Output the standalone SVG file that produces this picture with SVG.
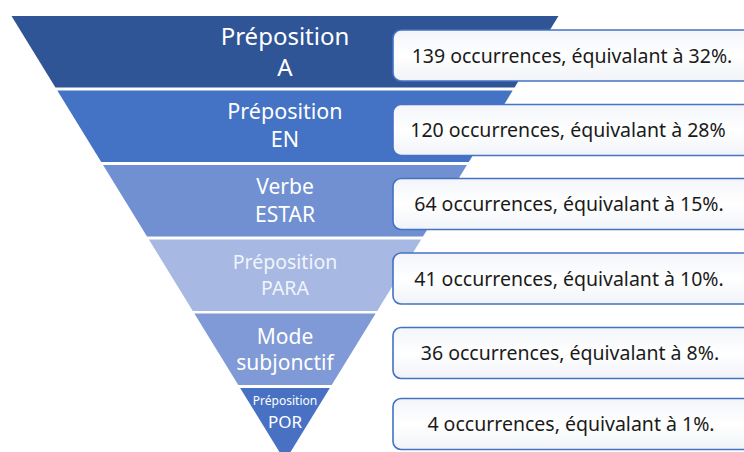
<svg xmlns="http://www.w3.org/2000/svg" width="744" height="452" viewBox="0 0 744 452">
<defs>
<linearGradient id="boxg" x1="0" y1="0" x2="0" y2="1">
<stop offset="0" stop-color="#F3F5F9"/>
<stop offset="0.5" stop-color="#FFFFFF"/>
<stop offset="1" stop-color="#F0F3F8"/>
</linearGradient>
<style>
.lbl{font-family:"Noto Sans","Open Sans","DejaVu Sans",sans-serif;fill:#FFFFFF;text-anchor:middle}
.box{fill:url(#boxg);stroke:#4472C4;stroke-width:1.6}
.bt{font-family:"Noto Sans","Open Sans","DejaVu Sans",sans-serif;font-size:19.5px;fill:#1A1A1A;text-anchor:middle}
</style>
</defs>
<rect width="744" height="452" fill="#FFFFFF"/>
<g id="band1">
<polygon points="11.5,16 558.5,16 514.56,87.5 55.44,87.5" fill="#2F5597"/>
<text class="lbl" x="285" y="45" font-size="24">Préposition</text>
<text class="lbl" x="285" y="76" font-size="24">A</text>
</g>
<g id="band2">
<polygon points="57.29,90.5 512.71,90.5 468.77,162 101.23,162" fill="#4472C4"/>
<text class="lbl" x="285" y="119" font-size="21.5">Préposition</text>
<text class="lbl" x="285" y="147" font-size="21.5">EN</text>
</g>
<g id="band3">
<polygon points="103.08,165 466.92,165 422.98,236.5 147.02,236.5" fill="#7090D1"/>
<text class="lbl" x="285" y="194" font-size="21">Verbe</text>
<text class="lbl" x="285" y="222" font-size="21">ESTAR</text>
</g>
<g id="band4">
<polygon points="148.86,239.5 421.14,239.5 377.19,311 192.81,311" fill="#A7B8E3"/>
<text class="lbl" x="285" y="269" font-size="19.5" fill="#F1F4FB" style="fill:#F1F4FB">Préposition</text>
<text class="lbl" x="285" y="295" font-size="19.5" style="fill:#F1F4FB">PARA</text>
</g>
<g id="band5">
<polygon points="194.35,313.5 375.65,313.5 331.71,385 238.29,385" fill="#7F9AD6"/>
<text class="lbl" x="285" y="344" font-size="21">Mode</text>
<text class="lbl" x="285" y="370" font-size="21">subjonctif</text>
</g>
<g id="band6">
<polygon points="240.13,388 329.87,388 285,461" fill="#4871C3"/>
<text class="lbl" x="285" y="405" font-size="12">Préposition</text>
<text class="lbl" x="285" y="428" font-size="17">POR</text>
</g>
<g id="box1">
<rect class="box" x="393" y="30" width="360" height="51" rx="8"/>
<text class="bt" x="572" y="62.5">139 occurrences, équivalant à 32%.</text>
</g>
<g id="box2">
<rect class="box" x="393" y="104.5" width="360" height="51" rx="8"/>
<text class="bt" x="568" y="137">120 occurrences, équivalant à 28%</text>
</g>
<g id="box3">
<rect class="box" x="393" y="178.5" width="360" height="51" rx="8"/>
<text class="bt" x="569" y="211">64 occurrences, équivalant à 15%.</text>
</g>
<g id="box4">
<rect class="box" x="393" y="253" width="360" height="51" rx="8"/>
<text class="bt" x="569" y="285.5">41 occurrences, équivalant à 10%.</text>
</g>
<g id="box5">
<rect class="box" x="393" y="327.5" width="360" height="51" rx="8"/>
<text class="bt" x="570" y="360">36 occurrences, équivalant à 8%.</text>
</g>
<g id="box6">
<rect class="box" x="393" y="398.5" width="360" height="51" rx="8"/>
<text class="bt" x="571" y="431">4 occurrences, équivalant à 1%.</text>
</g>
</svg>
